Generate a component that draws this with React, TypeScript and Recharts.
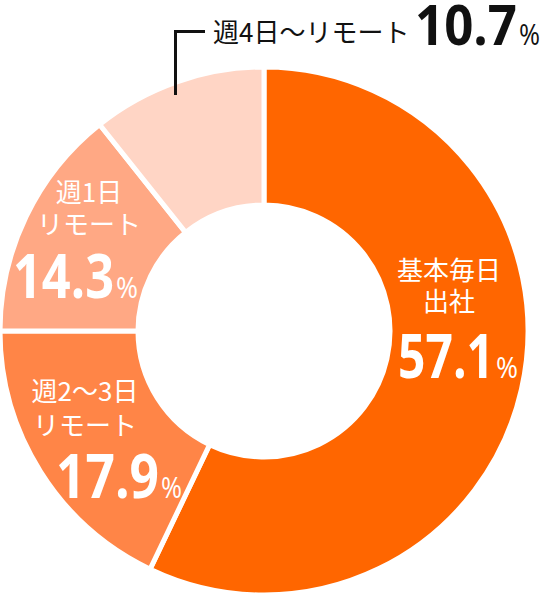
import React from "react";
import { PieChart, Pie, Cell } from "recharts";

const categories = ["基本毎日出社", "週2〜3日リモート", "週1日リモート", "週4日〜リモート"];
const values = [57.1, 17.9, 14.3, 10.7];
const valueLabels = ["57.1", "17.9", "14.3", "10.7"];
const labelLines = [["基本毎日", "出社"], ["週2〜3日", "リモート"], ["週1日", "リモート"], ["週4日〜リモート"]];
const colors = ["#FF6600", "#FF8547", "#FFA884", "#FFD5C5"];

const data = categories.map((name, i) => ({ name, value: values[i] }));

// layout offsets relative to pie center (style, not data)
const LAYOUT = [
  { jpX: 185, jpY: [-51, -20], numX: 134, numW: 96, numY: 47, numSize: 60, pctX: 232, pctW: 22, fill: "#fff", anchor: "middle" },
  { jpX: -179, jpY: [70, 104], numX: -208, numW: 103, numY: 167, numSize: 60, pctX: -103, pctW: 21, fill: "#fff", anchor: "middle" },
  { jpX: -175, jpY: [-129, -97], numX: -251, numW: 101, numY: -33, numSize: 60, pctX: -148, pctW: 22, fill: "#fff", anchor: "middle" },
  { jpX: -51, jpY: [-289], numX: 151, numW: 102, numY: -286, numSize: 56, pctX: 255, pctW: 21, fill: "#111", anchor: "start" },
];

const JP_FONT = "'Noto Sans CJK JP', sans-serif";
const NUM_FONT = "'Open Sans', 'Noto Sans', sans-serif";

const renderLabel = (props: any) => {
  const { cx, cy, index } = props;
  const L = LAYOUT[index];
  return (
    <g key={`lbl-${index}`}>
      {labelLines[index].map((line, j) => (
        <text
          key={j}
          x={cx + L.jpX}
          y={cy + L.jpY[j]}
          textAnchor={L.anchor}
          fill={L.fill}
          fontFamily={JP_FONT}
          fontSize={26}
          fontWeight={400}
        >
          {line}
        </text>
      ))}
      <text
        x={cx + L.numX}
        y={cy + L.numY}
        fill={L.fill}
        fontFamily={NUM_FONT}
        fontSize={L.numSize}
        fontWeight={700}
        textLength={L.numW}
        lengthAdjust="spacingAndGlyphs"
      >
        {valueLabels[index]}
      </text>
      <text
        x={cx + L.pctX}
        y={cy + L.numY}
        fill={L.fill}
        fontFamily={NUM_FONT}
        fontSize={30}
        fontWeight={400}
        textLength={L.pctW}
        lengthAdjust="spacingAndGlyphs"
      >
        %
      </text>
      {index === 3 && (
        <polyline
          points={`${cx - 88.5},${cy - 236} ${cx - 88.5},${cy - 299.5} ${cx - 59},${cy - 299.5}`}
          fill="none"
          stroke="#111"
          strokeWidth={3}
        />
      )}
    </g>
  );
};

export default function App() {
  return (
    <div style={{ position: "absolute", left: 0, top: 0, width: 545, height: 597, background: "#fff" }}>
      <style>{`body{margin:0}`}</style>
      <PieChart width={545} height={597} margin={{ top: 0, right: 0, bottom: 0, left: 0 }}>
        <Pie
          data={data}
          dataKey="value"
          nameKey="name"
          cx={264}
          cy={331}
          innerRadius={126}
          outerRadius={264}
          startAngle={90}
          endAngle={-270}
          stroke="#fff"
          strokeWidth={5}
          label={renderLabel}
          labelLine={false}
          isAnimationActive={false}
        >
          {data.map((d, i) => (
            <Cell key={d.name} fill={colors[i]} />
          ))}
        </Pie>
      </PieChart>
    </div>
  );
}
